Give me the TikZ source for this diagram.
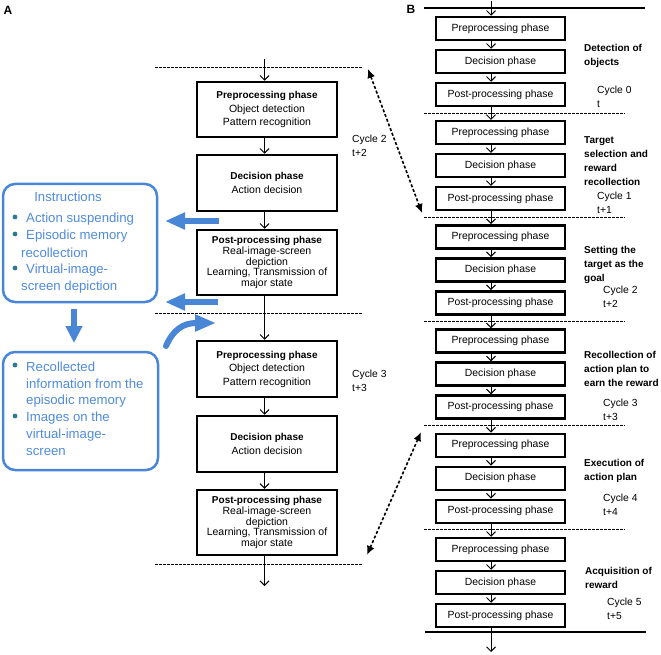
\documentclass[tikz,border=0pt]{standalone}
\usepackage{fontspec}
\setmainfont{Liberation Sans}
\usetikzlibrary{arrows.meta}
\definecolor{bblue}{HTML}{4A86D6}
\definecolor{btxt}{HTML}{4F8BDB}
\definecolor{bdot}{HTML}{2E7A8E}
\begin{document}
\begin{tikzpicture}[x=1pt,y=-1pt,
  abox/.style={draw, line width=2.5pt, minimum width=140pt, inner sep=0pt, align=center, font=\fontsize{10.5}{13.5}\selectfont},
  aboxt/.style={abox, font=\fontsize{10.5}{10.6}\selectfont},
  bbox/.style={draw, line width=2.5pt, minimum width=129pt, minimum height=23pt, inner sep=0pt, font=\fontsize{10.4}{12}\selectfont},
  flow/.style={line width=1pt, -{Straight Barb[length=4.5pt,width=9pt]}},
  sepline/.style={line width=0.9pt, dash pattern=on 2.5pt off 1.5pt},
  dbl/.style={line width=1.6pt, dash pattern=on 3pt off 2pt, {Latex[length=9pt,width=8pt]}-{Latex[length=9pt,width=8pt]}},
  lab/.style={anchor=north west, inner sep=0pt, align=left, font=\fontsize{10}{14}\selectfont\bfseries},
  cyc/.style={anchor=north west, inner sep=0pt, align=left, font=\fontsize{10.3}{14}\selectfont},
  bluebox/.style={draw=bblue, line width=2.5pt, rounded corners=12pt, inner sep=0pt},
  btext/.style={anchor=west, inner sep=0pt, text=btxt, font=\fontsize{13.2}{15}\selectfont},
  barrow/.style={draw=bblue, line width=6pt, -{Triangle[length=20pt,width=16pt]}}
]
\useasboundingbox (0,0) rectangle (661,655);
\newcommand\ttl[1]{{\fontsize{10}{10}\selectfont\bfseries #1}}

% panel labels
\node[font=\fontsize{12}{12}\selectfont\bfseries, inner sep=0pt] (labA) at (8,10) {A};
\node[font=\fontsize{12}{12}\selectfont\bfseries, inner sep=0pt] (labB) at (411,9) {B};

% ---------- Panel A ----------
\draw[sepline] (155,67) -- (362,67);
\draw[sepline] (155,313) -- (362,313);
\draw[sepline] (155,564) -- (362,564);

\node[abox, minimum height=55pt] (a1) at (267,109.5) {\ttl{Preprocessing phase}\\Object detection\\Pattern recognition};
\node[abox, minimum height=56pt] (a2) at (267,183) {\ttl{Decision phase}\\Action decision};
\node[aboxt, minimum height=65pt] (a3) at (267,262.5) {\ttl{Post-processing phase}\\Real-image-screen\\depiction\\Learning, Transmission of\\major state};
\node[abox, minimum height=56pt] (a4) at (267,369) {\ttl{Preprocessing phase}\\Object detection\\Pattern recognition};
\node[abox, minimum height=56pt] (a5) at (267,444) {\ttl{Decision phase}\\Action decision};
\node[aboxt, minimum height=65pt] (a6) at (267,522.5) {\ttl{Post-processing phase}\\Real-image-screen\\depiction\\Learning, Transmission of\\major state};

\coordinate (atop) at (264.5,59);
\coordinate (abot) at (264.5,586);
\draw[flow] (atop) -- ([xshift=-2.5pt]a1.north);
\draw[flow] ([xshift=-2.5pt]a1.south) -- ([xshift=-2.5pt]a2.north);
\draw[flow] ([xshift=-2.5pt]a2.south) -- ([xshift=-2.5pt]a3.north);
\draw[flow] ([xshift=-2.5pt]a3.south) -- ([xshift=-2.5pt]a4.north);
\draw[flow] ([xshift=-2.5pt]a4.south) -- ([xshift=-2.5pt]a5.north);
\draw[flow] ([xshift=-2.5pt]a5.south) -- ([xshift=-2.5pt]a6.north);
\draw[flow] ([xshift=-2.5pt]a6.south) -- (abot);

\node[cyc] (ca2) at (352,135) {Cycle 2\\t+2};
\node[cyc] (ca3) at (352,370) {Cycle 3\\t+3};

% blue boxes
\node[bluebox, minimum width=154pt, minimum height=118pt] (ins) at (80,243) {};
\node[bluebox, minimum width=155pt, minimum height=118pt] (rec) at (80.5,411) {};

\node[btext, anchor=center] (i0) at (68,197) {Instructions};
\node[btext] (i1) at (26,219) {Action suspending};
\node[btext] (i2) at (26,236) {Episodic memory};
\node[btext] (i3) at (21,253) {recollection};
\node[btext] (i4) at (26,270) {Virtual-image-};
\node[btext] (i5) at (21,287) {screen depiction};
\fill[bdot] (15,217) circle (2.4);
\fill[bdot] (15,234) circle (2.4);
\fill[bdot] (15,268) circle (2.4);

\node[btext] (r1) at (26,367) {Recollected};
\node[btext] (r2) at (26,384) {information from the};
\node[btext] (r3) at (26,401) {episodic memory};
\node[btext] (r4) at (26,418) {Images on the};
\node[btext] (r5) at (26,435) {virtual-image-};
\node[btext] (r6) at (26,452) {screen};
\fill[bdot] (15,365) circle (2.4);
\fill[bdot] (15,416) circle (2.4);

% blue arrows
\coordinate (b1s) at (219,221); \coordinate (b1e) at (165,221);
\coordinate (b2s) at (218,302); \coordinate (b2e) at (165,302);
\coordinate (b3s) at (74,309);  \coordinate (b3e) at (74,343);
\coordinate (b4s) at (166,346); \coordinate (b4e) at (216,323);
\draw[barrow] (b1s) -- (b1e);
\draw[barrow] (b2s) -- (b2e);
\draw[barrow, -{Triangle[length=17pt,width=16pt]}] (b3s) -- (b3e);
\draw[barrow, line cap=round, -{Triangle[length=21pt,width=16pt]}] (b4s) .. controls (173,330) and (183,323) .. (b4e);

% ---------- Panel B ----------
\draw[line width=1.2pt] (424,8) -- (645,8);
\draw[line width=1.2pt] (425,632) -- (646,632);
\foreach \k in {0,...,4}{
  \draw[sepline] (424,{113+104.2*\k}) -- (625,{113+104.2*\k});
}
\foreach \k in {0,...,5}{
  \pgfmathsetmacro\t{17+104.2*\k}
  \node[bbox] (p\k) at (500.5,\t+11.5) {Preprocessing phase};
  \node[bbox] (d\k) at (500.5,\t+44.5) {Decision phase};
  \node[bbox] (q\k) at (500.5,\t+77.5) {Post-processing phase};
  \draw[flow] ([xshift=-9.5pt]p\k.south) -- ([xshift=-9.5pt]d\k.north);
  \draw[flow] ([xshift=-9.5pt]d\k.south) -- ([xshift=-9.5pt]q\k.north);
}
\foreach \k [evaluate=\k as \n using int(\k+1)] in {0,...,4}{
  \draw[flow] ([xshift=-9.5pt]q\k.south) -- ([xshift=-9.5pt]p\n.north);
}
\coordinate (btop) at (491,1);
\coordinate (bbot) at (491,652);
\draw[flow] (btop) -- ([xshift=-9.5pt]p0.north);
\draw[flow] ([xshift=-9.5pt]q5.south) -- (bbot);

\node[lab] (l0) at (584,44) {Detection of\\objects};
\node[cyc] (c0) at (597,86) {Cycle 0\\t};
\node[lab] (l1) at (584,136) {Target\\selection and\\reward\\recollection};
\node[cyc] (c1) at (597,192) {Cycle 1\\t+1};
\node[lab] (l2) at (584,246) {Setting the\\target as the\\goal};
\node[cyc] (c2) at (603,286) {Cycle 2\\t+2};
\node[lab] (l3) at (584,351) {Recollection of\\action plan to\\earn the reward};
\node[cyc] (c3) at (603,399) {Cycle 3\\t+3};
\node[lab] (l4) at (584,459) {Execution of\\action plan};
\node[cyc] (c4) at (603,494) {Cycle 4\\t+4};
\node[lab] (l5) at (585,567) {Acquisition of\\reward};
\node[cyc] (c5) at (607,598) {Cycle 5\\t+5};

% dotted double arrows
\coordinate (d1a) at (368,69); \coordinate (d1b) at (422,213);
\coordinate (d2a) at (421,432); \coordinate (d2b) at (367,555);
\draw[dbl] (d1a) -- (d1b);
\draw[dbl] (d2a) -- (d2b);
\end{tikzpicture}
\end{document}
